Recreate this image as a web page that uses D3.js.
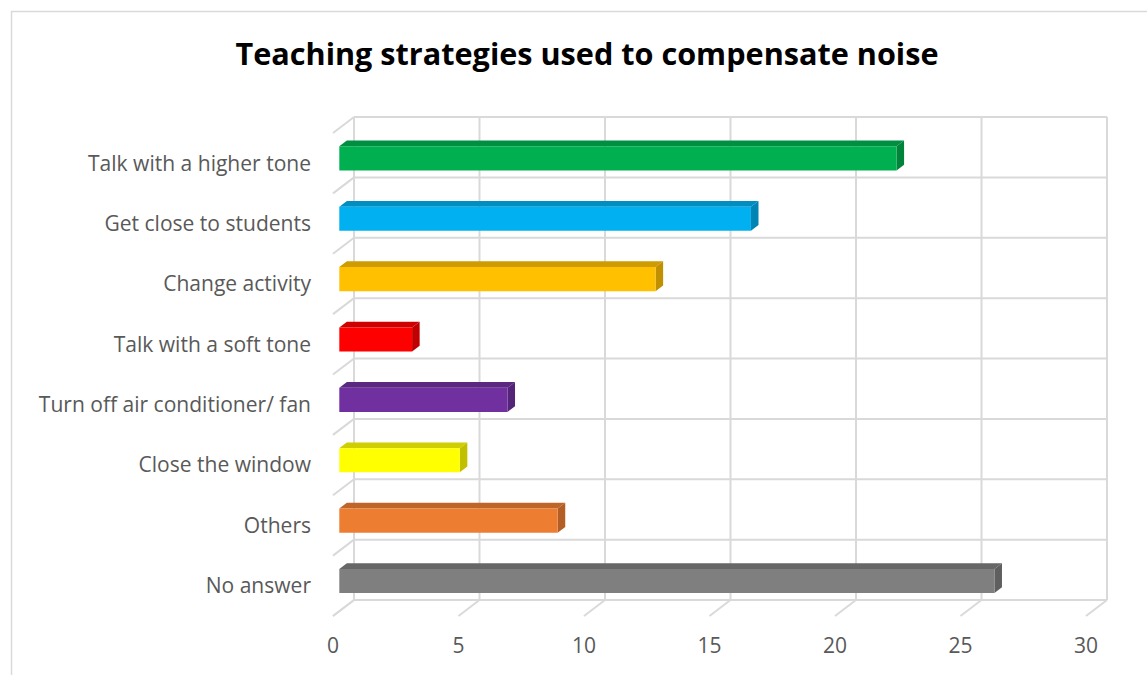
<!DOCTYPE html>
<html>
<head>
<meta charset="utf-8">
<script src="https://cdn.jsdelivr.net/npm/d3@7"></script>
<style>
  html, body { margin: 0; padding: 0; background: #ffffff; }
  svg { display: block; }
</style>
</head>
<body>
<svg id="chart" width="1147" height="675"></svg>
<script>
// Survey answers: how teachers compensate for classroom noise
const categories = [
  "Talk with a higher tone",
  "Get close to students",
  "Change activity",
  "Talk with a soft tone",
  "Turn off air conditioner/ fan",
  "Close the window",
  "Others",
  "No answer"
];
const values = [22.2, 16.4, 12.6, 2.9, 6.7, 4.8, 8.7, 26.1];
const colors = ["#00b050", "#00b0f0", "#ffc000", "#ff0000", "#7030a0", "#ffff00", "#ed7d31", "#7f7f7f"];
const tickValues = [0, 5, 10, 15, 20, 25, 30];
const titleText = "Teaching strategies used to compensate noise";

const svg = d3.select("#chart");
const W = 1147, H = 675;
const FONT = "'Open Sans', Lato, sans-serif";

// Back wall of the 3-D plot area
const back = { left: 354, right: 1107, top: 117, bottom: 600 };
// Oblique depth offset from the back wall to the front edge
const depth = { dx: -21, dy: 16 };
const barDepth = [0.34, 0.7];   // bar spans this fraction of the depth

const x = d3.scaleLinear().domain([0, 30]).range([back.left, back.right]);
const y = d3.scaleBand().domain(categories).range([back.top, back.bottom])
  .paddingInner(0.6).paddingOuter(0.3);
const yGrid = d3.scaleLinear().domain([0, categories.length]).range([back.top, back.bottom]);

const proj = (px, py, d) => [px + depth.dx * d, py + depth.dy * d];

// Shrink or grow a text node's font size so it spans the given width
function fitWidth(sel, target) {
  const node = sel.node();
  const size = parseFloat(sel.attr("font-size"));
  const len = node.getComputedTextLength();
  if (len > 0) sel.attr("font-size", (size * target / len).toFixed(2));
}

// Chart border
svg.append("rect")
  .attr("x", 11.5).attr("y", 11.5)
  .attr("width", W).attr("height", H)
  .attr("fill", "none").attr("stroke", "#d9d9d9").attr("stroke-width", 1.5);

// Title
const title = svg.append("text")
  .attr("x", 587).attr("y", 65)
  .attr("text-anchor", "middle")
  .attr("font-family", FONT)
  .attr("font-weight", "bold")
  .attr("font-size", 30)
  .attr("fill", "#000000")
  .text(titleText);
fitWidth(title, 703);

const grid = svg.append("g")
  .attr("stroke", "#d9d9d9").attr("stroke-width", 2).attr("fill", "none");

// Back-wall vertical gridlines
grid.selectAll("line.v").data(tickValues).join("line")
  .attr("class", "v")
  .attr("x1", d => x(d)).attr("x2", d => x(d))
  .attr("y1", back.top).attr("y2", back.bottom);

// Back-wall horizontal gridlines at category boundaries
const bounds = d3.range(categories.length + 1);
grid.selectAll("line.h").data(bounds).join("line")
  .attr("class", "h")
  .attr("x1", back.left).attr("x2", back.right)
  .attr("y1", d => yGrid(d)).attr("y2", d => yGrid(d));

// Side-wall depth lines
grid.selectAll("line.s").data(bounds).join("line")
  .attr("class", "s")
  .attr("x1", back.left).attr("y1", d => yGrid(d))
  .attr("x2", back.left + depth.dx).attr("y2", d => yGrid(d) + depth.dy);

// Floor depth lines
grid.selectAll("line.f").data(tickValues).join("line")
  .attr("class", "f")
  .attr("x1", d => x(d)).attr("y1", back.bottom)
  .attr("x2", d => x(d) + depth.dx).attr("y2", back.bottom + depth.dy);

// 3-D bars
const bars = svg.append("g");
categories.forEach((c, i) => {
  const v = values[i];
  const base = d3.color(colors[i]);
  const topCol = base.darker(0.6).formatHex();
  const sideCol = base.darker(0.8).formatHex();
  const y0 = y(c), y1 = y(c) + y.bandwidth();
  const [dB, dF] = [barDepth[0], barDepth[1]];
  const fTL = proj(x(0), y0, dF), fTR = proj(x(v), y0, dF), fBR = proj(x(v), y1, dF), fBL = proj(x(0), y1, dF);
  const bTL = proj(x(0), y0, dB), bTR = proj(x(v), y0, dB), bBR = proj(x(v), y1, dB);
  const g = bars.append("g");
  g.append("polygon").attr("points", [fTL, fTR, bTR, bTL].join(" ")).attr("fill", topCol);
  g.append("polygon").attr("points", [fTR, bTR, bBR, fBR].join(" ")).attr("fill", sideCol);
  g.append("polygon").attr("points", [fTL, fTR, fBR, fBL].join(" ")).attr("fill", base.formatHex());
});

// Category labels (front edge of the side wall)
const catLabels = svg.append("g").selectAll("text").data(categories).join("text")
  .attr("x", 311)
  .attr("y", d => y(d) + y.bandwidth() / 2 + depth.dy)
  .attr("dy", "0.35em")
  .attr("text-anchor", "end")
  .attr("font-family", FONT)
  .attr("font-size", 19)
  .attr("fill", "#595959")
  .text(d => d);
// Size all category labels from the first one's span
const first = d3.select(catLabels.nodes()[0]);
fitWidth(first, 223);
catLabels.attr("font-size", first.attr("font-size"));

// Value axis labels (front edge of the floor)
svg.append("g").selectAll("text").data(tickValues).join("text")
  .attr("x", d => x(d) + depth.dx)
  .attr("y", 653)
  .attr("text-anchor", "middle")
  .attr("font-family", FONT)
  .attr("font-size", first.attr("font-size"))
  .attr("fill", "#595959")
  .text(d => d);
</script>
</body>
</html>
